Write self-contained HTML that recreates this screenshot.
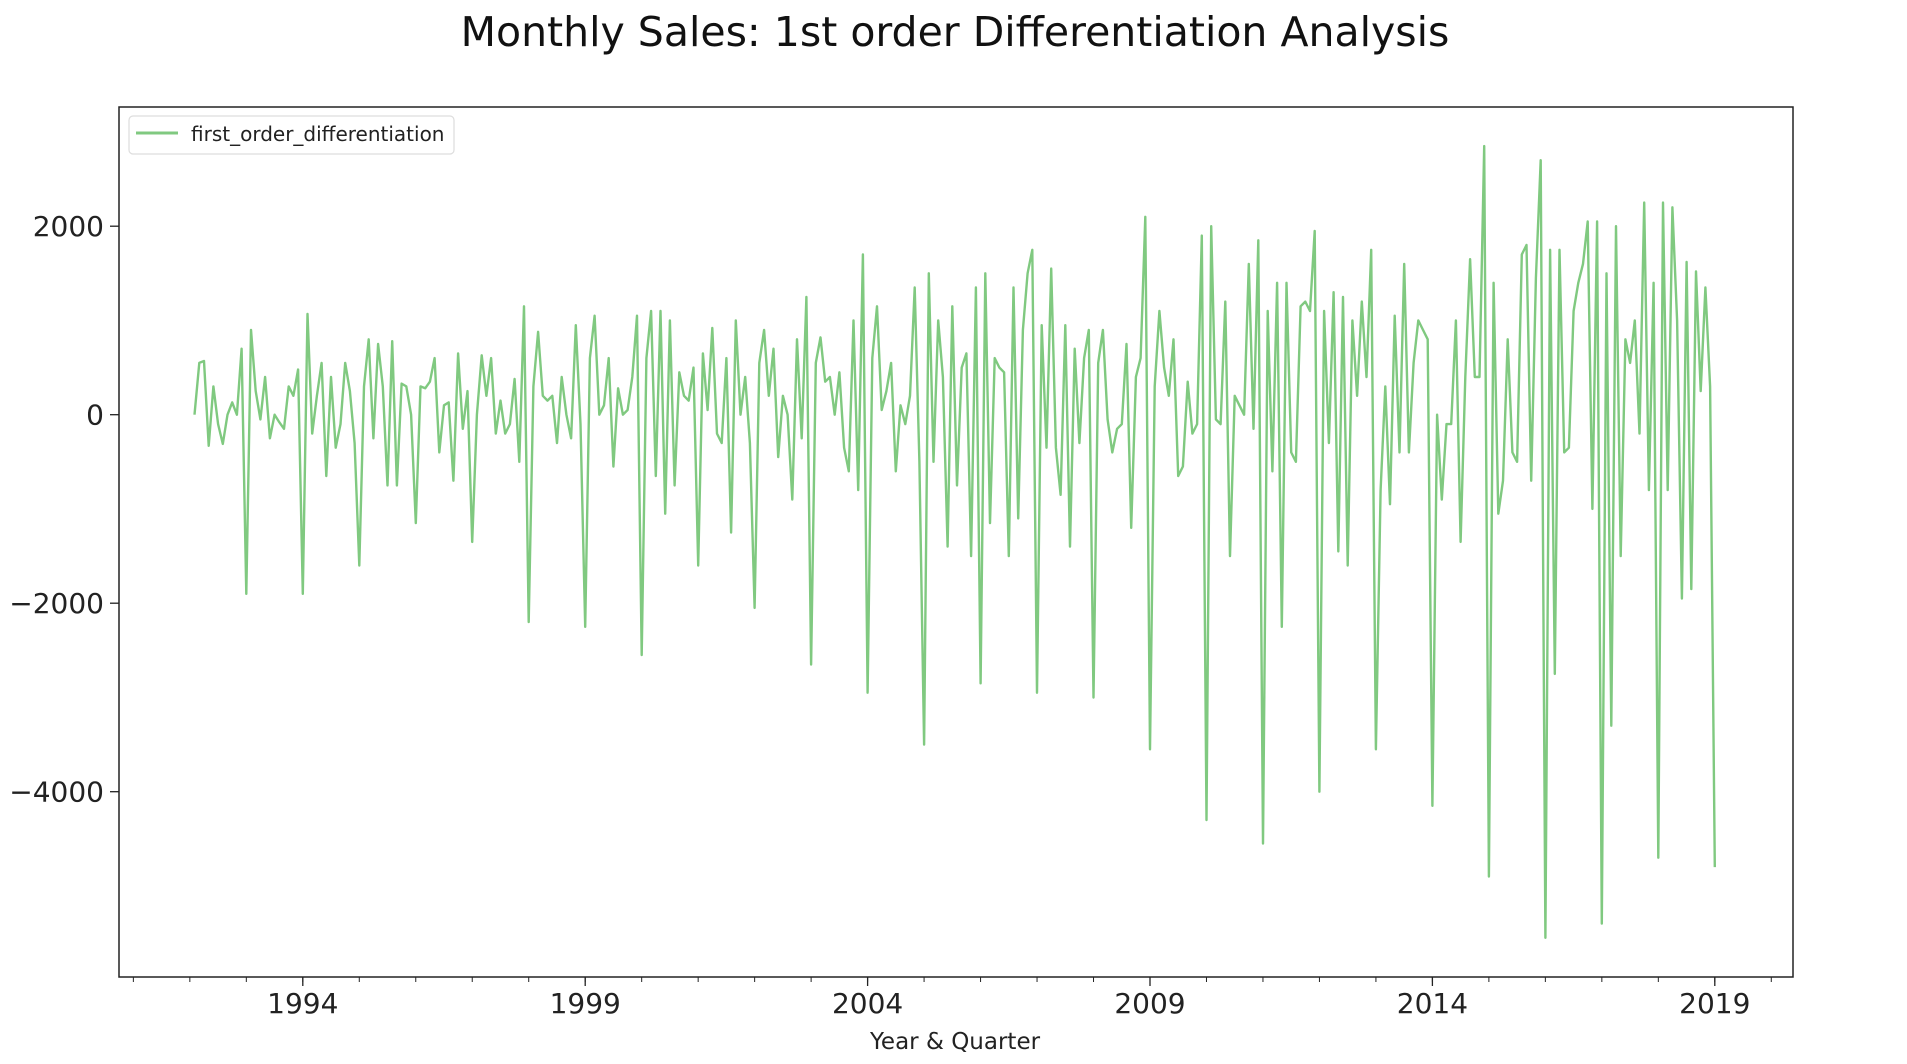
<!DOCTYPE html>
<html><head><meta charset="utf-8">
<style>
body{margin:0;background:#fff;}
svg{display:block;font-family:"DejaVu Sans","Liberation Sans",sans-serif;}
</style></head>
<body>
<svg id="chart" width="1907" height="1064" viewBox="0 0 1907 1064" xmlns="http://www.w3.org/2000/svg">
<rect width="1907" height="1064" fill="#fff"/>
<text x="955" y="46" font-size="41" text-anchor="middle" fill="#111">Monthly Sales: 1st order Differentiation Analysis</text>
<g id="ticks"></g>
<g id="series"></g>
<rect x="119" y="107" width="1674" height="870" fill="none" stroke="#222" stroke-width="1.5"/>
<g>
<rect x="129" y="116" width="325" height="38" rx="4" fill="#fff" stroke="#ddd" stroke-width="1.2"/>
<line x1="136" y1="133" x2="178" y2="133" stroke="#80c980" stroke-width="3"/>
<text x="191" y="141" font-size="20" fill="#222">first_order_differentiation</text>
</g>
<text x="955" y="1049" font-size="23" text-anchor="middle" fill="#222">Year &amp; Quarter</text>
</svg>
<script>
const startYear = 1992 + 1/12;
const values = [
0,550,570,-330,300,-100,-310,0,130,0,700,-1900,
900,250,-50,400,-250,0,-80,-150,300,200,480,-1900,
1070,-200,200,550,-650,400,-350,-100,550,250,-300,-1600,
300,800,-250,750,300,-750,780,-750,330,300,0,-1150,
300,280,350,600,-400,100,130,-700,650,-150,250,-1350,
0,630,200,600,-200,150,-200,-100,380,-500,1150,-2200,
300,880,200,150,200,-300,400,0,-250,950,-100,-2250,
600,1050,0,100,600,-550,280,0,50,400,1050,-2550,
600,1100,-650,1100,-1050,1000,-750,450,200,150,500,-1600,
650,50,920,-200,-300,600,-1250,1000,0,400,-300,-2050,
550,900,200,700,-450,200,0,-900,800,-250,1250,-2650,
550,820,350,400,0,450,-350,-600,1000,-800,1700,-2950,
600,1150,50,250,550,-600,100,-100,200,1350,-500,-3500,
1500,-500,1000,400,-1400,1150,-750,500,650,-1500,1350,-2850,
1500,-1150,600,500,450,-1500,1350,-1100,900,1500,1750,-2950,
950,-350,1550,-350,-850,950,-1400,700,-300,600,900,-3000,
550,900,-50,-400,-150,-100,750,-1200,400,600,2100,-3550,
300,1100,500,200,800,-650,-550,350,-200,-100,1900,-4300,
2000,-50,-100,1200,-1500,200,100,0,1600,-150,1850,-4550,
1100,-600,1400,-2250,1400,-400,-500,1150,1200,1100,1950,-4000,
1100,-300,1300,-1450,1250,-1600,1000,200,1200,400,1750,-3550,
-800,300,-950,1050,-400,1600,-400,550,1000,900,800,-4150,
0,-900,-100,-100,1000,-1350,400,1650,400,400,2850,-4900,
1400,-1050,-700,800,-400,-500,1700,1800,-700,1450,2700,-5550,
1750,-2750,1750,-400,-350,1100,1400,1600,2050,-1000,2050,-5400,
1500,-3300,2000,-1500,800,550,1000,-200,2250,-800,1400,-4700,
2250,-800,2200,1000,-1950,1620,-1850,1520,250,1350,300,-4800
];
const xTickYears = [1994,1999,2004,2009,2014,2019];
const yTickValues = [-4000,-2000,0,2000];
const yTickLabels = ["\u22124000","\u22122000","0","2000"];

function xScale(year){ return 302.8 + (year-1994)*56.48; }
function yScale(v){ return 414.7 - v*0.09425; }

const NS = "http://www.w3.org/2000/svg";
const ticks = document.getElementById('ticks');
function mk(tag, attrs){ const e=document.createElementNS(NS,tag); for(const k in attrs) e.setAttribute(k,attrs[k]); return e; }

// minor year ticks
for(let y=1991;y<=2020;y++){
  const x=xScale(y);
  if(x<119||x>1793) continue;
  const t=mk('line',{x1:x,y1:977,x2:x,y2:982,stroke:'#222','stroke-width':1});
  
  
  ticks.appendChild(t);
}
xTickYears.forEach(y=>{
  const x=xScale(y);
  const t=mk('line',{x1:x,y1:977,x2:x,y2:986,stroke:'#222','stroke-width':1.3});
  
  
  ticks.appendChild(t);
  const l=mk('text',{x:x,y:1013,'font-size':28,'text-anchor':'middle',fill:'#222'});
  l.textContent=String(y);
  
  
  ticks.appendChild(l);
});
yTickValues.forEach((v,i)=>{
  const y=yScale(v);
  const t=mk('line',{x1:110,y1:y,x2:119,y2:y,stroke:'#222','stroke-width':1.3});
  
  
  ticks.appendChild(t);
  const l=mk('text',{x:104,y:y+10,'font-size':28,'text-anchor':'end',fill:'#222'});
  l.textContent=yTickLabels[i];
  
  
  ticks.appendChild(l);
});

const pts = values.map((v,i)=>xScale(startYear+i/12).toFixed(1)+','+yScale(v).toFixed(1)).join(' ');
const line = mk('polyline',{points:pts,fill:'none',stroke:'#80c980','stroke-width':2.4,'stroke-linejoin':'round'});


document.getElementById('series').appendChild(line);
</script>
</body></html>
